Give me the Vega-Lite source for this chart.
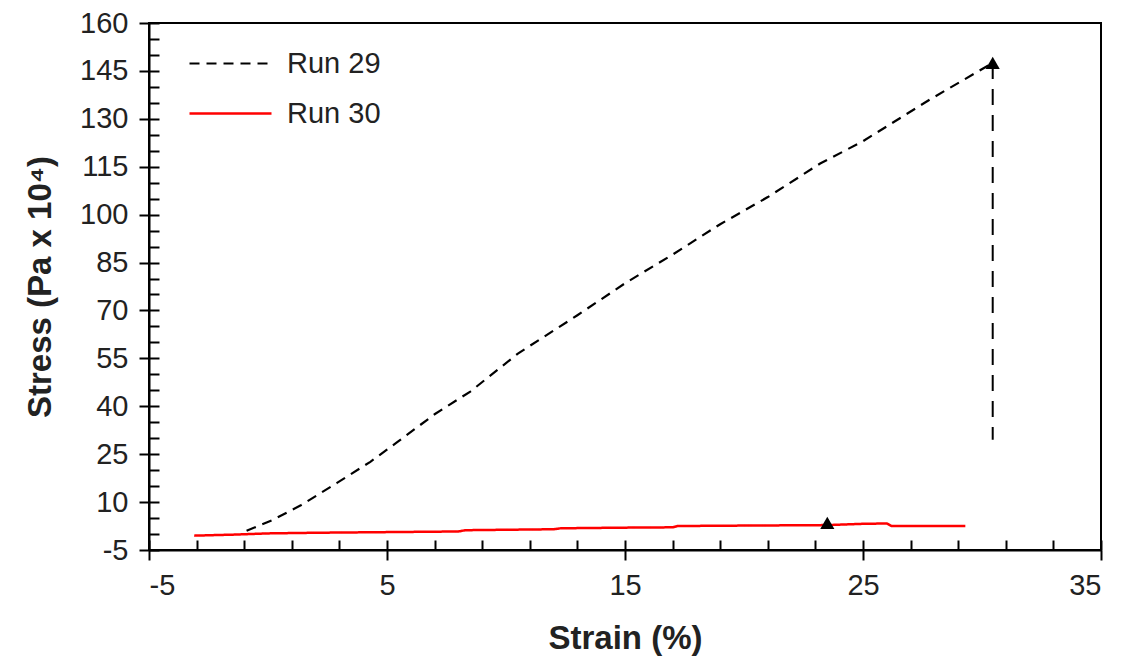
{
  "$schema": "https://vega.github.io/schema/vega-lite/v6.json",
  "autosize": {"type": "none"},
  "width": 952,
  "height": 527,
  "padding": {"left": 149, "top": 23, "right": 26, "bottom": 112},
  "background": "white",
  "config": {
    "view": {"stroke": "black", "strokeWidth": 2},
    "font": "Liberation Sans",
    "axis": {"grid": false, "domainColor": "black", "domainWidth": 2, "tickColor": "black", "tickWidth": 2, "labelFont": "Liberation Sans", "titleFont": "Liberation Sans", "labelColor": "#222", "titleColor": "#222"}
  },
  "datasets": {
    "curves": [
      {"series": "Run 29", "i": 1, "strain": -0.9, "stress": 1.0},
      {"series": "Run 29", "i": 2, "strain": 0.2, "stress": 4.4},
      {"series": "Run 29", "i": 3, "strain": 1.4, "stress": 9.1},
      {"series": "Run 29", "i": 4, "strain": 2.9, "stress": 16.0},
      {"series": "Run 29", "i": 5, "strain": 4.3, "stress": 22.6},
      {"series": "Run 29", "i": 6, "strain": 5.4, "stress": 28.6},
      {"series": "Run 29", "i": 7, "strain": 7.0, "stress": 37.5},
      {"series": "Run 29", "i": 8, "strain": 8.5, "stress": 44.6},
      {"series": "Run 29", "i": 9, "strain": 10.5, "stress": 56.5},
      {"series": "Run 29", "i": 10, "strain": 13.0, "stress": 68.5},
      {"series": "Run 29", "i": 11, "strain": 15.0, "stress": 78.5},
      {"series": "Run 29", "i": 12, "strain": 17.0, "stress": 87.5},
      {"series": "Run 29", "i": 13, "strain": 19.0, "stress": 97.0},
      {"series": "Run 29", "i": 14, "strain": 21.0, "stress": 105.5},
      {"series": "Run 29", "i": 15, "strain": 23.2, "stress": 116.0},
      {"series": "Run 29", "i": 16, "strain": 25.0, "stress": 123.0},
      {"series": "Run 29", "i": 17, "strain": 27.8, "stress": 136.0},
      {"series": "Run 29", "i": 18, "strain": 30.45, "stress": 147.5},
      {"series": "Run 30", "i": 1, "strain": -3.1, "stress": -0.5},
      {"series": "Run 30", "i": 2, "strain": -1.5, "stress": -0.2},
      {"series": "Run 30", "i": 3, "strain": 0.0, "stress": 0.2},
      {"series": "Run 30", "i": 4, "strain": 2.0, "stress": 0.4},
      {"series": "Run 30", "i": 5, "strain": 5.0, "stress": 0.6},
      {"series": "Run 30", "i": 6, "strain": 8.0, "stress": 0.8},
      {"series": "Run 30", "i": 7, "strain": 8.3, "stress": 1.2},
      {"series": "Run 30", "i": 8, "strain": 12.0, "stress": 1.5},
      {"series": "Run 30", "i": 9, "strain": 12.3, "stress": 1.8},
      {"series": "Run 30", "i": 10, "strain": 15.0, "stress": 2.0},
      {"series": "Run 30", "i": 11, "strain": 17.0, "stress": 2.1},
      {"series": "Run 30", "i": 12, "strain": 17.2, "stress": 2.5},
      {"series": "Run 30", "i": 13, "strain": 19.0, "stress": 2.6},
      {"series": "Run 30", "i": 14, "strain": 23.5, "stress": 2.8},
      {"series": "Run 30", "i": 15, "strain": 25.0, "stress": 3.2},
      {"series": "Run 30", "i": 16, "strain": 26.0, "stress": 3.3},
      {"series": "Run 30", "i": 17, "strain": 26.2, "stress": 2.5},
      {"series": "Run 30", "i": 18, "strain": 29.3, "stress": 2.5}
    ],
    "drop": [
      {"series": "Run 29", "i": 1, "strain": 30.45, "stress": 147.5},
      {"series": "Run 29", "i": 2, "strain": 30.45, "stress": 29.5}
    ],
    "failure": [
      {"series": "Run 29", "strain": 30.45, "stress": 147.5},
      {"series": "Run 30", "strain": 23.5, "stress": 3.5}
    ]
  },
  "layer": [
    {
      "data": {"name": "curves"},
      "mark": {"type": "line", "interpolate": "linear"},
      "encoding": {
        "x": {"field": "strain", "type": "quantitative", "scale": {"domain": [-5, 35], "nice": false, "zero": false},
          "axis": {"orient": "bottom", "title": "Strain (%)", "values": [-5, 5, 15, 25, 35], "labelExpr": "'' + datum.value", "tickSize": 10, "labelFontSize": 29, "labelPadding": 11, "titleFontSize": 33, "titleFontWeight": "bold", "titlePadding": 22}},
        "y": {"field": "stress", "type": "quantitative", "scale": {"domain": [-5, 160], "nice": false, "zero": false},
          "axis": {"orient": "left", "title": "Stress (Pa x 10⁴)", "values": [-5, 10, 25, 40, 55, 70, 85, 100, 115, 130, 145, 160], "labelExpr": "'' + datum.value", "tickSize": 10, "labelFontSize": 29, "labelPadding": 11, "titleFontSize": 33, "titleFontWeight": "bold", "titlePadding": 22}},
        "order": {"field": "i", "type": "quantitative"},
        "color": {"field": "series", "type": "nominal", "scale": {"domain": ["Run 29", "Run 30"], "range": ["black", "red"]},
          "legend": {"orient": "none", "legendX": 67, "legendY": 26, "title": null, "symbolType": "M-4.1,0H4.1", "symbolSize": 400, "symbolStrokeWidth": 2.5, "labelFontSize": 29, "labelColor": "#222", "labelFont": "Liberation Sans", "labelOffset": 42, "rowPadding": 20}},
        "strokeDash": {"field": "series", "type": "nominal", "scale": {"domain": ["Run 29", "Run 30"], "range": [[10, 7], [1, 0]]}, "legend": null},
        "strokeWidth": {"field": "series", "type": "nominal", "scale": {"domain": ["Run 29", "Run 30"], "range": [2.2, 2.5]}, "legend": null}
      }
    },
    {
      "data": {"name": "drop"},
      "mark": {"type": "line", "color": "black", "strokeWidth": 2, "strokeDash": [16, 10]},
      "encoding": {
        "x": {"field": "strain", "type": "quantitative", "axis": null},
        "y": {"field": "stress", "type": "quantitative", "axis": null},
        "order": {"field": "i", "type": "quantitative"}
      }
    },
    {
      "data": {"name": "failure"},
      "mark": {"type": "point", "shape": "triangle-up", "filled": true, "color": "black", "size": 200, "opacity": 1},
      "encoding": {
        "x": {"field": "strain", "type": "quantitative",
          "axis": {"orient": "bottom", "title": null, "labels": false, "domain": false, "values": [-5, -3, -1, 1, 3, 5, 7, 9, 11, 13, 15, 17, 19, 21, 23, 25, 27, 29, 31, 33, 35], "tickSize": -10}},
        "y": {"field": "stress", "type": "quantitative",
          "axis": {"orient": "left", "title": null, "labels": false, "domain": false, "values": [-5, 0, 5, 10, 15, 20, 25, 30, 35, 40, 45, 50, 55, 60, 65, 70, 75, 80, 85, 90, 95, 100, 105, 110, 115, 120, 125, 130, 135, 140, 145, 150, 155, 160], "tickSize": -10}}
      }
    }
  ],
  "resolve": {"axis": {"x": "independent", "y": "independent"}}
}
